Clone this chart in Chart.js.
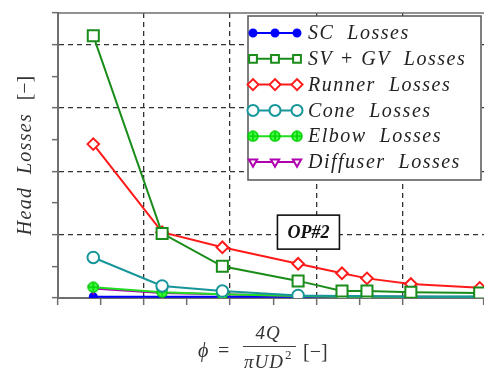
<!DOCTYPE html>
<html>
<head>
<meta charset="utf-8">
<script src="https://cdn.jsdelivr.net/npm/chart.js@4.4.1/dist/chart.umd.min.js"></script>
<style>
  html, body { margin: 0; padding: 0; background: #fff; overflow: hidden; }
  canvas { display: block; }
</style>
</head>
<body>
<canvas id="lossChart" width="484" height="374"></canvas>
<script>
// flow coefficient positions of the operating points
const phi = [0.41, 1.21, 1.91, 2.79, 3.30, 3.59, 4.10, 4.90];

const scLosses = [0.02, 0.02, 0.02, 0.02, 0.02, 0.02, 0.02, 0.02];
const svGvLosses = [4.14, 1.02, 0.50, 0.27, 0.11, 0.11, 0.09, 0.08];
const runnerLosses = [2.43, 1.04, 0.80, 0.54, 0.39, 0.31, 0.22, 0.16];
const coneLosses = [0.64, 0.19, 0.11, 0.04, 0.03, 0.03, 0.02, 0.02];
const elbowLosses = [0.17, 0.09, 0.06, 0.03, 0.02, 0.02, 0.02, 0.02];
const diffuserLosses = [0.15, 0.08, 0.06, 0.03, 0.02, 0.02, 0.02, 0.01];

const seriesNames = ["SC  Losses", "SV + GV  Losses", "Runner  Losses", "Cone  Losses", "Elbow  Losses", "Diffuser  Losses"];
const opLabel = "OP#2";
const opPos = { x: 2.91, y: 1.04 };

// circle with a plus for the elbow marker
function elbowMarker() {
  const c = document.createElement("canvas");
  c.width = 12; c.height = 12;
  const g = c.getContext("2d");
  g.fillStyle = "#44ff44";
  g.strokeStyle = "#00d000";
  g.lineWidth = 1.5;
  g.beginPath();
  g.arc(6, 6, 5, 0, Math.PI * 2);
  g.fill();
  g.stroke();
  g.beginPath();
  g.moveTo(6, 1.5); g.lineTo(6, 10.5);
  g.moveTo(1.5, 6); g.lineTo(10.5, 6);
  g.stroke();
  return c;
}

function pts(values) {
  return values.map((v, i) => ({ x: phi[i], y: v }));
}

const datasets = [
  { label: seriesNames[0], data: pts(scLosses), borderColor: "#0000ff", backgroundColor: "#0000ff",
    pointStyle: "circle", pointRadius: 3.5, pointRotation: 0 },
  { label: seriesNames[1], data: pts(svGvLosses), borderColor: "#1a8c1a", backgroundColor: "#ffffff",
    pointStyle: "rect", pointRadius: 7.8, pointRotation: 0 },
  { label: seriesNames[2], data: pts(runnerLosses), borderColor: "#ff1a1a", backgroundColor: "#ffffff",
    pointStyle: "rectRot", pointRadius: 5.8, pointRotation: 0 },
  { label: seriesNames[3], data: pts(coneLosses), borderColor: "#17969a", backgroundColor: "#ffffff",
    pointStyle: "circle", pointRadius: 5.8, pointRotation: 0 },
  { label: seriesNames[4], data: pts(elbowLosses), borderColor: "#22dd22", backgroundColor: "#44ff44",
    pointStyle: elbowMarker(), pointRadius: 6, pointRotation: 0 },
  { label: seriesNames[5], data: pts(diffuserLosses), borderColor: "#b000b0", backgroundColor: "#ffffff",
    pointStyle: "triangle", pointRadius: 4.8, pointRotation: 180 },
];
datasets.forEach(d => {
  d.borderWidth = 2;
  d.pointBorderWidth = 2;
  d.pointBorderColor = d.borderColor;
  d.pointBackgroundColor = d.backgroundColor;
  d.fill = false;
  d.tension = 0;
});
// draw blue SC last so it sits on the axis like the reference
datasets.push(datasets.shift());

const axisGray = "#6e6e6e";
const serif = '"Liberation Serif", "DejaVu Serif", serif';
const mathSpacing = "1.5px";

const isMajor = v => Math.abs(v - Math.round(v)) < 1e-6;

const decor = {
  id: "decor",
  afterDraw(chart) {
    const ctx = chart.ctx;
    const a = chart.chartArea;
    const xs = chart.scales.x, ys = chart.scales.y;
    ctx.save();

    // top frame line
    ctx.strokeStyle = axisGray;
    ctx.lineWidth = 1.6;
    ctx.beginPath();
    ctx.moveTo(a.left, a.top);
    ctx.lineTo(a.right, a.top);
    ctx.stroke();

    // OP#2 label box
    const cx = xs.getPixelForValue(opPos.x), cy = ys.getPixelForValue(opPos.y);
    ctx.fillStyle = "#fff";
    ctx.strokeStyle = "#111";
    ctx.lineWidth = 1.6;
    ctx.fillRect(cx - 31, cy - 17, 62, 34);
    ctx.strokeRect(cx - 31, cy - 17, 62, 34);
    ctx.fillStyle = "#111";
    ctx.font = "italic bold 18px " + serif;
    ctx.textAlign = "center";
    ctx.textBaseline = "middle";
    ctx.fillText(opLabel, cx, cy + 1);

    // legend
    const lx = 248, ly = 16, lw = 233, lh = 164;
    ctx.fillStyle = "#fff";
    ctx.fillRect(lx, ly, lw, lh);
    ctx.strokeStyle = "#555";
    ctx.lineWidth = 1.5;
    ctx.strokeRect(lx, ly, lw, lh);
    const order = [seriesNames.length - 1, 0, 1, 2, 3, 4]; // dataset index for each legend row
    order.forEach((di, row) => {
      const ds = chart.data.datasets[di];
      const y = 33 + row * 25.8;
      ctx.strokeStyle = ds.borderColor;
      ctx.lineWidth = 2;
      ctx.beginPath();
      ctx.moveTo(253, y);
      ctx.lineTo(297, y);
      ctx.stroke();
      [253, 275, 297].forEach(mx => {
        ctx.fillStyle = ds.pointBackgroundColor;
        ctx.strokeStyle = ds.pointBorderColor;
        ctx.lineWidth = ds.pointBorderWidth;
        Chart.helpers.drawPoint(ctx, {
          pointStyle: ds.pointStyle,
          rotation: ds.pointRotation,
          radius: Math.min(ds.pointRadius, 5.5),
          borderWidth: ds.pointBorderWidth
        }, mx, y);
      });
      ctx.fillStyle = "#222";
      ctx.font = "italic 20px " + serif;
      ctx.letterSpacing = mathSpacing;
      ctx.textAlign = "left";
      ctx.textBaseline = "middle";
      ctx.fillText(ds.label, 308, y + 1);
      ctx.letterSpacing = "0px";
    });

    // y axis title
    ctx.save();
    ctx.translate(26, (a.top + a.bottom) / 2);
    ctx.rotate(-Math.PI / 2);
    ctx.fillStyle = "#333";
    ctx.textBaseline = "middle";
    ctx.textAlign = "left";
    const t1 = "Head  Losses  ";
    const t2 = "[\u2212]";
    ctx.font = "20px " + serif;
    const w2 = ctx.measureText(t2).width;
    ctx.font = "italic 20px " + serif;
    ctx.letterSpacing = "1.3px";
    const w1 = ctx.measureText(t1).width;
    ctx.fillText(t1, -(w1 + w2) / 2, 0);
    ctx.letterSpacing = "0px";
    ctx.font = "20px " + serif;
    ctx.fillText(t2, -(w1 + w2) / 2 + w1, 0);
    ctx.restore();

    // x axis title: phi = 4Q / (pi U D^2) [-]
    ctx.fillStyle = "#333";
    ctx.textBaseline = "alphabetic";
    ctx.textAlign = "left";
    ctx.font = "italic 20px " + serif;
    ctx.fillText("\u03d5", 198, 357);
    ctx.font = "20px " + serif;
    ctx.fillText("=", 218, 357);
    ctx.font = "italic 19px " + serif;
    ctx.letterSpacing = "1px";
    ctx.textAlign = "center";
    ctx.fillText("4Q", 268, 339);
    ctx.textAlign = "left";
    const den = "\u03c0UD";
    const dw = ctx.measureText(den).width;
    ctx.fillText(den, 268 - dw / 2 - 4, 368);
    ctx.letterSpacing = "0px";
    ctx.font = "13px " + serif;
    ctx.fillText("2", 268 + dw / 2 - 3, 359);
    ctx.strokeStyle = "#444";
    ctx.lineWidth = 1.2;
    ctx.beginPath();
    ctx.moveTo(243, 346.5);
    ctx.lineTo(296, 346.5);
    ctx.stroke();
    ctx.font = "20px " + serif;
    ctx.fillText("[\u2212]", 303, 358);

    ctx.restore();
  }
};

new Chart(document.getElementById("lossChart"), {
  type: "line",
  data: { datasets },
  options: {
    responsive: false,
    animation: false,
    layout: { autoPadding: false, padding: { top: 13, right: 0, left: 0, bottom: 0 } },
    plugins: { legend: { display: false }, tooltip: { enabled: false } },
    scales: {
      x: {
        type: "linear",
        min: 0,
        max: 4.95,
        ticks: { stepSize: 0.5, display: false },
        grid: {
          color: c => (isMajor(c.tick.value) && c.tick.value > 0 && c.tick.value < 4.9) ? "#333" : "rgba(0,0,0,0)",
          lineWidth: 1.3,
          tickColor: axisGray,
          tickLength: 7,
          tickWidth: 1.5
        },
        border: { color: axisGray, width: 2, dash: [5, 4] },
        afterFit(s) { s.height = 76; }
      },
      y: {
        min: 0,
        max: 4.5,
        ticks: { stepSize: 0.5, display: false },
        grid: {
          color: c => (isMajor(c.tick.value) && c.tick.value > 0) ? "#333" : "rgba(0,0,0,0)",
          lineWidth: 1.3,
          tickColor: axisGray,
          tickLength: 6,
          tickWidth: 1.5
        },
        border: { color: axisGray, width: 2, dash: [5, 4] },
        afterFit(s) { s.width = 58; }
      }
    }
  },
  plugins: [decor]
});
</script>
</body>
</html>
